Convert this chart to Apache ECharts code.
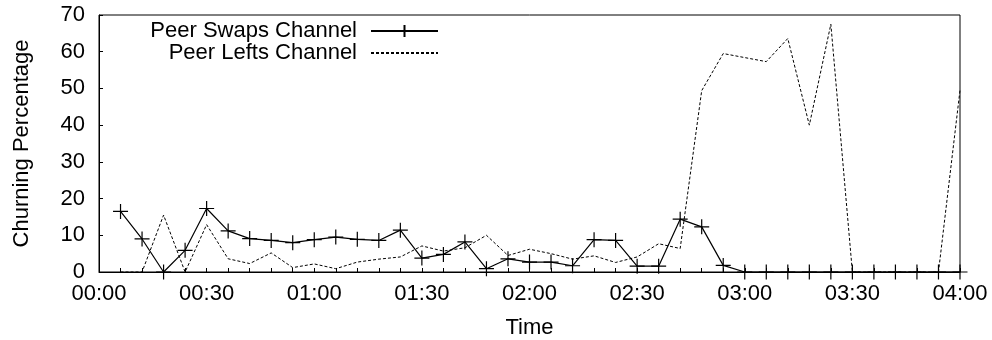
<!DOCTYPE html>
<html>
<head>
<meta charset="utf-8" />
<script src="https://cdn.jsdelivr.net/npm/echarts@6/dist/echarts.min.js"></script>
<style>
  html, body { margin: 0; padding: 0; background: #fff; }
  #chart { width: 992px; height: 340px; }
</style>
</head>
<body>
<div id="chart"></div>
<script>
// sample times (every 6 minutes)
const times = [
  '00:06', '00:12', '00:18', '00:24', '00:30', '00:36', '00:42', '00:48', '00:54', '01:00',
  '01:06', '01:12', '01:18', '01:24', '01:30', '01:36', '01:42', '01:48', '01:54', '02:00',
  '02:06', '02:12', '02:18', '02:24', '02:30', '02:36', '02:42', '02:48', '02:54', '03:00',
  '03:06', '03:12', '03:18', '03:24', '03:30', '03:36', '03:42', '03:48', '03:54', '04:00',
]
const swaps = [
  16.5, 9.0, 0, 5.9, 17.3, 11.2, 9.1, 8.6, 8.0, 8.8,
  9.5, 8.9, 8.6, 11.4, 3.8, 4.8, 8.2, 0.9, 3.6, 2.7,
  2.7, 1.7, 8.8, 8.6, 1.6, 1.6, 14.4, 12.3, 1.8, 0,
  0, 0, 0, 0, 0, 0, 0, 0, 0, 0,
]
const lefts = [
  0, 0, 15.5, 0, 12.9, 3.6, 2.3, 5.2, 1.2, 2.2,
  0.9, 2.7, 3.5, 4.1, 7.1, 5.7, 6.6, 10.0, 4.5, 6.2,
  5.0, 3.5, 4.4, 2.6, 4.1, 7.7, 6.4, 49.4, 59.5, 58.4,
  57.3, 63.6, 40.0, 67.5, 0, 0, 0, 0, 0, 49.5,
]
const xTickLabels = ['00:00', '00:30', '01:00', '01:30', '02:00', '02:30', '03:00', '03:30', '04:00']

const toMin = (s) => {
  const [h, m] = s.split(':').map(Number)
  return h * 60 + m
}
const pairs = (vals) => times.map((t, i) => [toMin(t), vals[i]])

const FONT = "'Liberation Sans', Arial, sans-serif"
const FS = 22
const black = '#000'

const chart = echarts.init(document.getElementById('chart'), null, { renderer: 'canvas' })

const legendText = { fontFamily: FONT, fontSize: FS, color: black, padding: [0, 9, 0, 0] }

chart.setOption({
  animation: false,
  textStyle: { fontFamily: FONT },
  grid: {
    left: 99, right: 32, top: 15, bottom: 68,
    outerBoundsMode: 'none',
    containLabel: false,
    show: true, borderColor: black, borderWidth: 1,
  },
  legend: [
    {
      data: ['Peer Swaps Channel'],
      right: 548, top: 15,
      align: 'right',
      itemWidth: 67, itemHeight: 15,
      textStyle: legendText,
    },
    {
      data: ['Peer Lefts Channel'],
      right: 548, top: 37,
      align: 'right',
      itemWidth: 67, itemHeight: 15,
      itemStyle: { opacity: 0 },
      textStyle: legendText,
    },
  ],
  xAxis: {
    type: 'value',
    min: 0, max: 240, interval: 30,
    name: 'Time',
    nameLocation: 'middle',
    nameGap: 45,
    nameTextStyle: { fontFamily: FONT, fontSize: FS, color: black },
    axisLine: { show: true, lineStyle: { color: black, width: 1 } },
    axisTick: { show: true, inside: true, length: 4, lineStyle: { color: black } },
    minorTick: { show: true, splitNumber: 5, length: 4, lineStyle: { color: black } },
    splitLine: { show: false },
    axisLabel: {
      fontFamily: FONT, fontSize: FS, color: black, margin: 11,
      showMaxLabel: true, showMinLabel: true,
      formatter: (v) => xTickLabels[Math.round(v / 30)],
    },
  },
  yAxis: {
    type: 'value',
    min: 0, max: 70, interval: 10,
    name: 'Churning Percentage',
    nameLocation: 'middle',
    nameGap: 66,
    nameRotate: 90,
    nameTextStyle: { fontFamily: FONT, fontSize: FS, color: black },
    axisLine: { show: true, lineStyle: { color: black, width: 1 } },
    axisTick: { show: true, inside: true, length: 4, lineStyle: { color: black } },
    splitLine: { show: false },
    axisLabel: { fontFamily: FONT, fontSize: FS, color: black, margin: 14 },
  },
  series: [
    {
      name: 'Peer Swaps Channel',
      type: 'line',
      data: pairs(swaps),
      symbol: 'path://M-1,0L1,0M0,-1L0,1',
      symbolSize: 15,
      showAllSymbol: true,
      lineStyle: { color: black, width: 1.2 },
      itemStyle: { color: 'none', borderColor: black, borderWidth: 1.2 },
      z: 3,
    },
    {
      name: 'Peer Lefts Channel',
      type: 'line',
      data: pairs(lefts),
      symbol: 'none',
      lineStyle: { color: black, width: 1, type: [3, 2] },
      itemStyle: { color: black },
      z: 2,
    },
  ],
})
</script>
</body>
</html>
